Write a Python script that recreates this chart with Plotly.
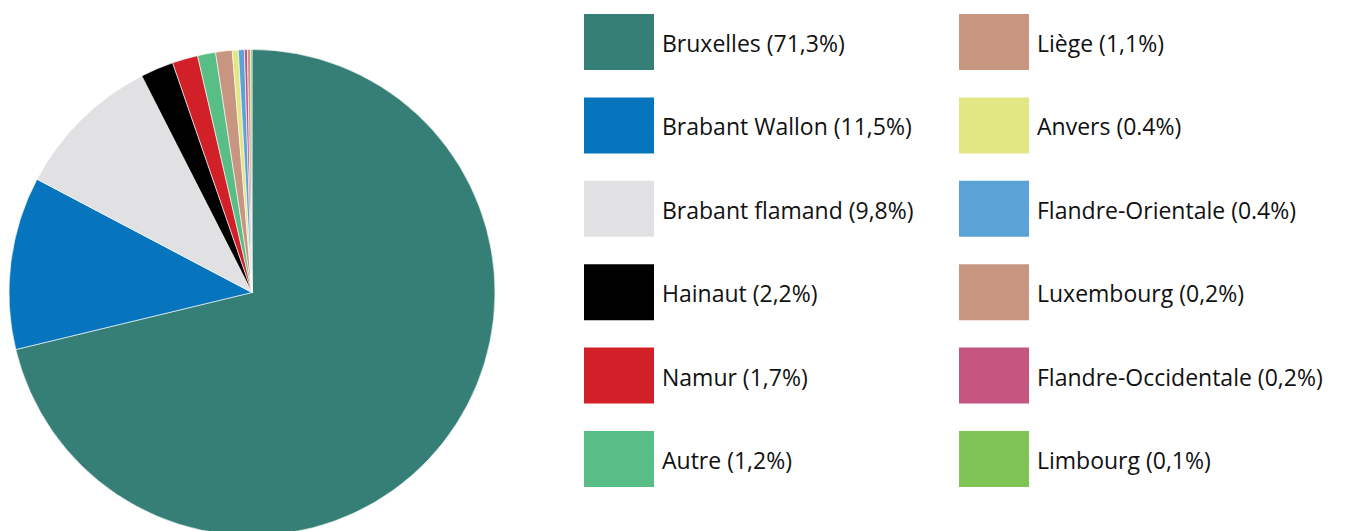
import plotly.graph_objects as go

W, H = 1345, 531
OFF = 8  # page body margin offset

# Data
provinces = ["Bruxelles", "Brabant Wallon", "Brabant flamand", "Hainaut", "Namur", "Autre",
             "Liège", "Anvers", "Flandre-Orientale", "Flandre-Occidentale", "Luxembourg", "Limbourg"]
shares = [71.3, 11.5, 9.8, 2.2, 1.7, 1.2, 1.1, 0.4, 0.4, 0.2, 0.2, 0.1]
colors = ["#367F77", "#0775BE", "#E1E1E3", "#000000", "#D12027", "#59BE85",
          "#C89580", "#E2E784", "#5BA3D6", "#C3557E", "#C89580", "#7FC455"]

legend_labels = ["Bruxelles (71,3%)", "Brabant Wallon (11,5%)", "Brabant flamand (9,8%)",
                 "Hainaut (2,2%)", "Namur (1,7%)", "Autre (1,2%)",
                 "Liège (1,1%)", "Anvers (0.4%)", "Flandre-Orientale (0.4%)",
                 "Luxembourg (0,2%)", "Flandre-Occidentale (0,2%)", "Limbourg (0,1%)"]
legend_colors = ["#367F77", "#0775BE", "#E1E1E3", "#000000", "#D12027", "#59BE85",
                 "#C89580", "#E2E784", "#5BA3D6", "#C89580", "#C3557E", "#7FC455"]

fig = go.Figure()
fig.add_trace(go.Pie(
    labels=provinces, values=shares,
    marker=dict(colors=colors, line=dict(color="white", width=0.6)),
    sort=False, direction="clockwise", rotation=0,
    textinfo="none", hoverinfo="label+percent", showlegend=False,
    domain=dict(x=[1 / W, 487 / W], y=[3 / H, 490 / H]),
))

shapes = []
annotations = []
col_x = [584 - OFF, 959 - OFF]
for i, (lab, col) in enumerate(zip(legend_labels, legend_colors)):
    c = i // 6
    r = i % 6
    top = 14 - OFF + r * 83.4
    x0 = col_x[c]
    shapes.append(dict(type="rect", xref="paper", yref="paper",
                       x0=x0 / W, x1=(x0 + 70) / W,
                       y0=1 - (top + 56) / H, y1=1 - top / H,
                       fillcolor=col, line=dict(width=0)))
    annotations.append(dict(xref="paper", yref="paper", x=(x0 + 76) / W, y=1 - (top + 29) / H,
                            text=lab, showarrow=False, xanchor="left", yanchor="middle",
                            font=dict(family="Open Sans", size=23, color="#111111")))

fig.update_layout(
    width=W, height=H,
    margin=dict(l=0, r=0, t=0, b=0),
    paper_bgcolor="white", plot_bgcolor="white",
    shapes=shapes, annotations=annotations,
)

fig.write_html("out.html")
